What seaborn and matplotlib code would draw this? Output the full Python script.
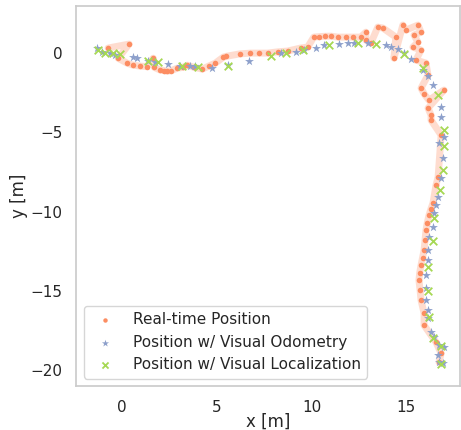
import numpy as np
import matplotlib
matplotlib.use('Agg')
import matplotlib.pyplot as plt
import seaborn as sns

# Real-time position (ordered along the path)
rt_x = [-0.74, 0.37, -0.21, 0.26, 0.55, 0.95, 1.3, 1.64, 1.7, 2.01, 2.2, 2.38, 2.6, 2.91, 3.2,
        3.44, 3.8, 4.23, 4.6, 4.92, 5.34, 5.5, 6.2, 6.77, 7.2, 7.67, 8.2, 8.73, 9.42, 9.79,
        10.11, 10.4, 10.7, 11.01, 11.38, 11.8, 12.2, 12.59, 12.86, 12.86, 13.12, 13.49, 13.76,
        14.44, 14.34, 14.81, 14.97, 15.61, 15.77, 15.4, 15.61, 15.34, 15.77, 15.5, 16.03,
        16.14, 15.77, 15.95, 16.19, 16.98, 16.14, 16.3, 16.3, 16.83, 16.67, 16.56, 16.4,
        16.3, 16.19, 16.1, 16.03, 15.98, 15.93, 15.85, 15.77, 15.7, 15.66, 15.72, 15.77,
        15.93, 15.93, 16.56, 16.83, 16.72]
rt_y = [0.32, 0.57, -0.32, -0.63, -0.75, -0.82, -0.85, -0.32, -0.9, -1.07, -1.1, -1.14, -1.1,
        -0.95, -0.9, -0.76, -0.9, -1.01, -0.8, -0.63, -0.25, -0.2, -0.05, 0.0, 0.0, 0.0, 0.08,
        0.13, 0.32, 0.38, 1.01, 1.04, 1.06, 1.07, 1.01, 1.01, 1.01, 1.01, 1.32, 0.82, 0.63,
        1.64, 1.58, 1.01, -0.32, 1.77, 1.45, 1.77, 1.32, 1.14, 0.69, 0.38, 0.19, -0.44, -0.63,
        -1.39, -2.21, -2.6, -2.97, -2.33, -3.47, -3.91, -4.23, -5.17, -7.82, -8.33, -9.46,
        -9.8, -10.22, -10.7, -11.17, -11.8, -12.43, -12.9, -13.38, -13.85, -14.32, -14.95,
        -15.58, -16.4, -17.16, -18.23, -18.93, -19.5]

# Position w/ visual odometry
vo_x = [-1.32, -1.06, -0.63, -0.37, 0.58, 0.79, 1.38, 1.75, 2.43, 3.07, 3.6, 3.86, 4.76, 5.56,
        6.67, 8.36, 9.15, 9.58, 10.21, 10.63, 11.43, 11.9, 12.22, 12.96, 13.92, 14.18, 14.55,
        14.87, 15.24, 15.87, 16.14, 16.4, 16.83, 16.83, 16.98, 16.72, 16.93, 16.83, 16.67,
        16.56, 16.46, 16.4, 16.19, 16.14, 16.14, 16.03, 16.03, 16.03, 16.14, 16.14, 16.3,
        16.46, 16.72, 16.98, 16.67, 16.72, 16.93]
vo_y = [0.32, 0.06, 0.0, -0.13, -0.25, -0.32, -0.5, -0.57, -0.69, -0.82, -0.82, -0.82, -0.95,
        -0.76, -0.5, 0.0, 0.06, 0.19, 0.32, 0.5, 0.57, 0.63, 0.63, 0.63, 0.5, 0.38, 0.25, 0.0,
        -0.38, -1.07, -1.45, -2.02, -3.41, -4.04, -5.3, -5.68, -6.62, -7.89, -9.09, -9.59,
        -10.09, -10.98, -11.61, -12.43, -13.06, -14.01, -14.83, -15.58, -16.21, -16.72, -17.6,
        -17.92, -18.42, -18.55, -19.05, -19.5, -19.56]

# Position w/ visual localization
vl_x = [-1.27, -0.9, -0.48, -0.11, 1.38, 1.9, 3.17, 4.02, 5.61, 7.83, 8.62, 9.52, 10.9, 12.43,
        13.39, 14.87, 15.87, 16.67, 16.98, 16.98, 16.93, 16.77, 16.46, 16.4, 16.14, 16.14,
        16.19, 16.4, 16.83, 16.83]
vl_y = [0.19, 0.0, 0.0, -0.06, -0.5, -0.57, -0.82, -0.88, -0.82, -0.19, 0.0, 0.19, 0.5, 0.63,
        0.57, -0.06, -0.95, -2.65, -4.86, -5.87, -7.38, -8.64, -10.41, -11.86, -13.5, -15.02,
        -16.66, -17.98, -18.49, -19.62]

sns.set_theme(style='whitegrid', context='notebook')
pal = sns.color_palette('Set2')

fig, ax = plt.subplots(figsize=(4.61, 4.30), dpi=100)
fig.subplots_adjust(left=0.165, right=0.998, top=0.986, bottom=0.102)

ax.plot(rt_x, rt_y, color=pal[1], alpha=0.3, lw=5, zorder=1)
sns.scatterplot(x=rt_x, y=rt_y, color=pal[1], s=16, linewidth=0, ax=ax,
                label='Real-time Position', zorder=2)
sns.scatterplot(x=vo_x, y=vo_y, color=pal[2], marker='*', s=45, linewidth=0, ax=ax,
                label='Position w/ Visual Odometry', zorder=3)
sns.scatterplot(x=vl_x, y=vl_y, color=pal[4], marker='x', s=30, linewidth=1.3, ax=ax,
                label='Position w/ Visual Localization', zorder=4)

ax.grid(False)
ax.set_xlim(-2.43, 17.83)
ax.set_ylim(-21.0, 2.97)
ax.set_xticks([0, 5, 10, 15])
ax.set_yticks([0, -5, -10, -15, -20])
ax.tick_params(axis='x', pad=4)
ax.set_xlabel('x [m]', labelpad=-2)
ax.set_ylabel('y [m]', labelpad=2)
ax.legend(loc='lower left', frameon=True, markerscale=0.8)

fig.savefig('out.png', dpi=100)
